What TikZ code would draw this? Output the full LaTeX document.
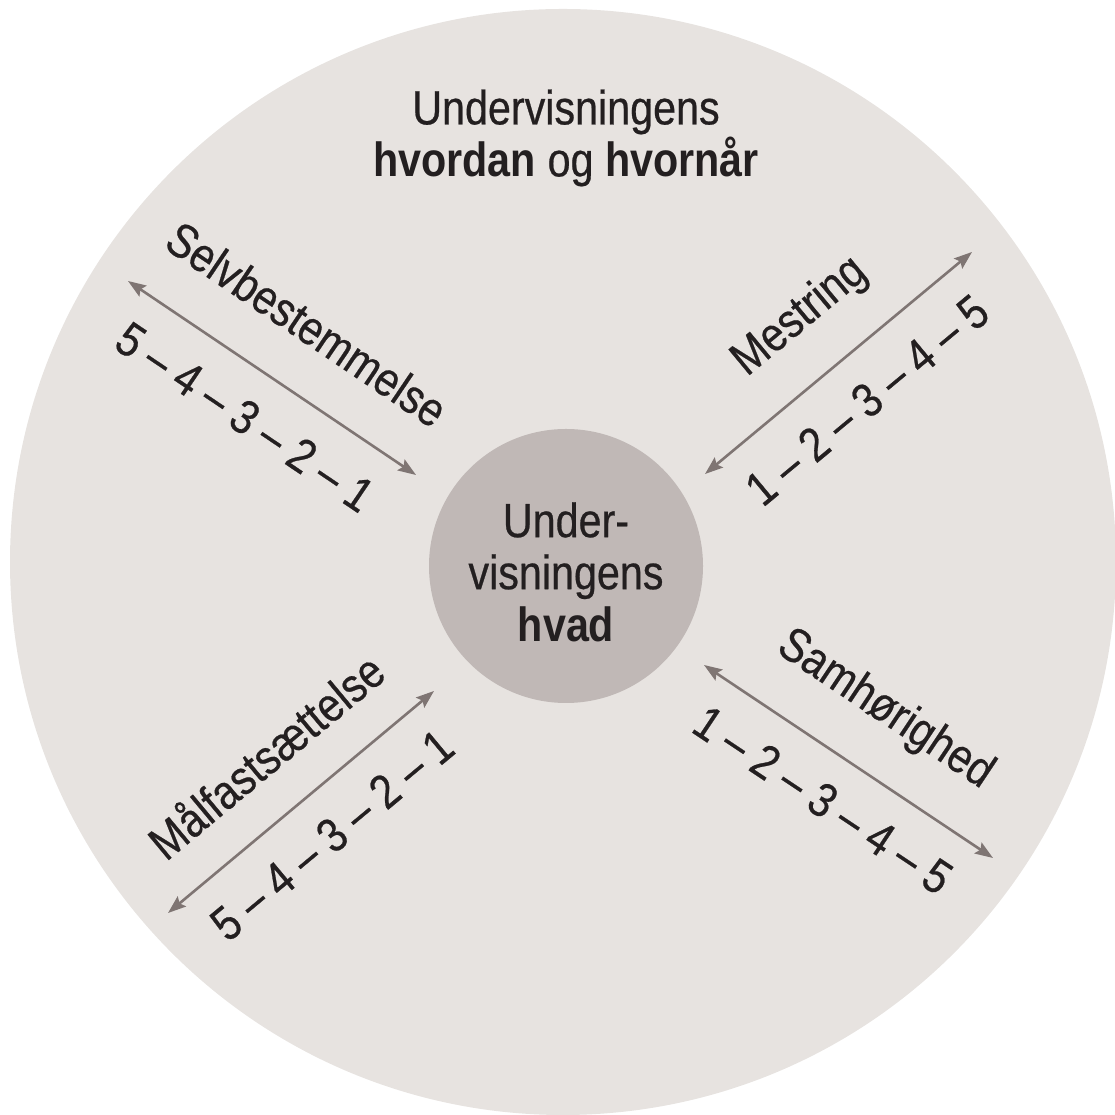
\documentclass[tikz,border=0pt]{standalone}
\usepackage{fontspec}
\setmainfont{Liberation Sans}[FakeStretch=0.86,UprightFeatures={FakeBold=0.5}]
\usetikzlibrary{arrows.meta}
\definecolor{bgc}{HTML}{E7E3E0}
\definecolor{innerc}{HTML}{C0B8B6}
\definecolor{arrc}{HTML}{7F7573}
\definecolor{txtc}{HTML}{231F20}
\begin{document}
\begin{tikzpicture}[x=1pt,y=1pt,
  lbl/.style={text=txtc,font=\fontsize{48}{52}\selectfont,inner sep=0pt,align=center},
  conn/.style={draw=arrc,line width=2.6pt,{Stealth[length=18pt,width=13pt,inset=3pt]}-{Stealth[length=18pt,width=13pt,inset=3pt]}}]
\useasboundingbox (0,0) rectangle (1115,1115);
% outer disc
\node[circle,fill=bgc,minimum size=1106pt,inner sep=0pt] (outer) at (563,1115-562) {};
% inner disc
\node[circle,fill=innerc,minimum size=274pt,inner sep=0pt] (core) at (566,1115-566) {};
\node[lbl] (coretxt) at (566,1115-572) {Under-\\visningens\\\textbf{hvad}};
% title
\node[lbl] (title) at (566,1115-138) {Undervisningens\\\textbf{hvordan} og \textbf{hvornår}};
% arrow end points
\coordinate (s1) at (128,1115-281);
\coordinate (s2) at (416,1115-475);
\coordinate (m1) at (705,1115-474);
\coordinate (m2) at (972,1115-252);
\coordinate (h1) at (704,1115-665);
\coordinate (h2) at (993,1115-858);
\coordinate (f1) at (434,1115-691);
\coordinate (f2) at (168,1115-913);
\draw[conn] (s1) -- (s2);
\draw[conn] (m1) -- (m2);
\draw[conn] (h1) -- (h2);
\draw[conn] (f1) -- (f2);
% labels
\node[lbl,rotate=-34] (selv) at (307,1115-324) {Selvbestemmelse};
\node[lbl,rotate=-34] (selvn) at (245,1115-417) {5 – 4 – 3 – 2 – 1};
\node[lbl,rotate=39.7] (mest) at (800,1115-317) {Mestring};
\node[lbl,rotate=39.7] (mestn) at (867,1115-400) {1 – 2 – 3 – 4 – 5};
\node[lbl,rotate=-33.7] (samh) at (885,1115-710) {Samhørighed};
\node[lbl,rotate=-33.7] (samhn) at (823,1115-800) {1 – 2 – 3 – 4 – 5};
\node[lbl,rotate=39.8] (malf) at (265,1115-755) {Målfastsættelse};
\node[lbl,rotate=39.8] (malfn) at (332,1115-835) {5 – 4 – 3 – 2 – 1};
\end{tikzpicture}
\end{document}
